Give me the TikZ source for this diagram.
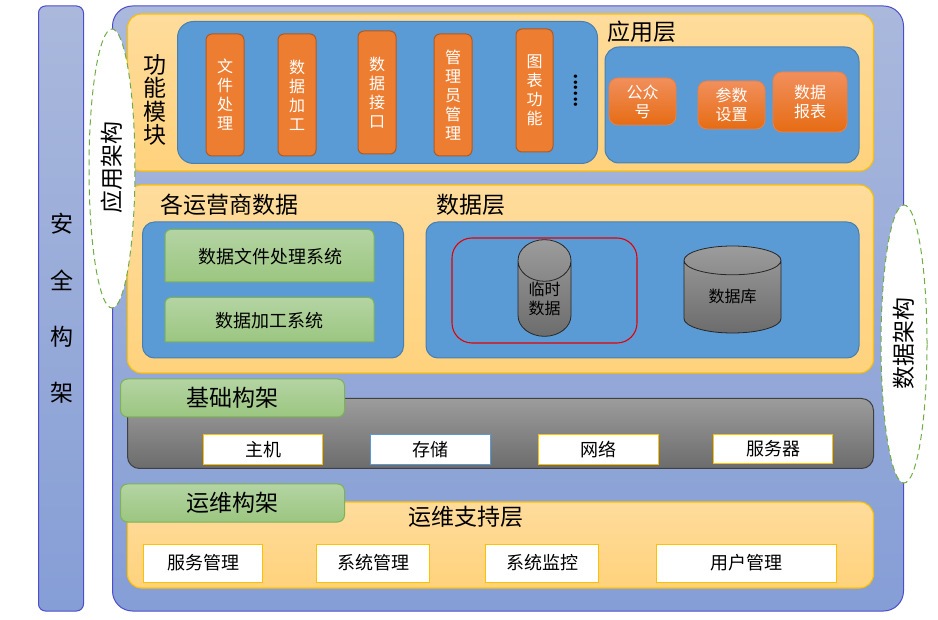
\documentclass[tikz,border=0pt]{standalone}
\usepackage{fontspec}
\setmainfont{Noto Sans CJK SC}
\usetikzlibrary{shapes.geometric}

\newcommand{\titlefont}{\fontsize{23}{23.5}\selectfont}
\newcommand{\labelfont}{\fontsize{16}{19}\selectfont}
\newcommand{\itemfont}{\fontsize{18}{20}\selectfont}

\begin{document}
\begin{tikzpicture}[
    x=1pt, y=-1pt,
    frame/.style={draw=blue!55!gray!90, line width=1pt, top color=backtop, bottom color=backbot, inner sep=0pt},
    layer/.style={draw=layerline, line width=1.1pt, top color=layertop, bottom color=layerbot, rounded corners=14pt, inner sep=0pt},
    module/.style={draw=moduleline, line width=1pt, fill=modulefill, inner sep=0pt},
    func/.style={draw=funcline, line width=1pt, fill=funcfill, rounded corners=6pt, inner sep=0pt, align=center, text=white, font=\labelfont},
    btn/.style={draw=btnline, line width=.8pt, top color=btntop, bottom color=btnbot, rounded corners=9pt, inner sep=0pt, align=center, text=white, font=\labelfont},
    tab/.style={draw=tabline, line width=1pt, top color=tabtop, bottom color=tabbot, rounded corners=7pt, inner sep=0pt, minimum width=224pt, minimum height=38pt, font=\titlefont},
    subsys/.style={draw=tabline, line width=1pt, top color=tabtop, bottom color=tabbot},
    item/.style={draw=layerline, line width=1pt, fill=white, inner sep=0pt, minimum height=30pt, font=\itemfont},
    store/.style={cylinder, shape border rotate=90, anchor=shape center, draw=black!85, line width=.8pt, top color=graytop, bottom color=graybot, inner sep=0pt, align=center, font=\labelfont},
    arch/.style={ellipse, draw=archline, line width=1pt, dash pattern=on 6pt off 4pt, fill=white, inner sep=0pt, minimum width=46pt, minimum height=279pt},
    title/.style={inner sep=0pt, font=\titlefont, align=center}
]
\definecolor{backtop}{HTML}{AAB8DC}
\definecolor{backbot}{HTML}{859ED6}
\definecolor{layerline}{HTML}{FFC000}
\definecolor{layertop}{HTML}{FFDC9C}
\definecolor{layerbot}{HTML}{FFD27C}
\definecolor{moduleline}{HTML}{4A7EAE}
\definecolor{modulefill}{HTML}{5B9BD5}
\definecolor{funcline}{HTML}{AE5A21}
\definecolor{funcfill}{HTML}{ED7D31}
\definecolor{btnline}{HTML}{EE8040}
\definecolor{btntop}{HTML}{F18F5C}
\definecolor{btnbot}{HTML}{E66C14}
\definecolor{tabline}{HTML}{7DB257}
\definecolor{tabtop}{HTML}{B4D4A3}
\definecolor{tabbot}{HTML}{9BC680}
\definecolor{graytop}{HTML}{9C9C9C}
\definecolor{graybot}{HTML}{6C6C6C}
\definecolor{archline}{HTML}{70AD47}

\useasboundingbox (0,0) rectangle (938,620);

% background bars
\node[frame, rounded corners=7pt, minimum width=45pt, minimum height=605pt] (safety) at (61,308.5) {};
\node[frame, rounded corners=20pt, minimum width=791pt, minimum height=605pt] (outer) at (508,308.5) {};
\node[inner sep=0pt, align=center, font=\fontsize{23}{56.4}\selectfont] (safetytxt) at (62,308.5) {安\\全\\构\\架};

% top layer
\node[layer, minimum width=746pt, minimum height=157pt] (funclayer) at (500.5,92.5) {};
\node[title] (functxt) at (155,100) {功\\能\\模\\块};
\node[module, rounded corners=16pt, minimum width=420pt, minimum height=142pt] (funcbox) at (387.5,92.5) {};
\node[func, minimum width=38pt, minimum height=122pt] (f1) at (225,95) {文\\件\\处\\理};
\node[func, minimum width=38pt, minimum height=122pt] (f2) at (297,95) {数\\据\\加\\工};
\node[func, minimum width=38pt, minimum height=123pt] (f3) at (377,92.5) {数\\据\\接\\口};
\node[func, minimum width=38pt, minimum height=122pt] (f4) at (453,95) {管\\理\\员\\管\\理};
\node[func, minimum width=37pt, minimum height=123pt] (f5) at (534.5,90.5) {图\\表\\功\\能};
\node[rotate=90, inner sep=0pt, font=\fontsize{16}{16}\selectfont\bfseries] (fmore) at (576,91) {......};
\node[title] (apptxt) at (642,32) {应用层};
\node[module, rounded corners=14pt, minimum width=254pt, minimum height=116pt] (appbox) at (732,105) {};
\node[btn, minimum width=67pt, minimum height=47pt] (b1) at (642.5,101.5) {公众\\号};
\node[btn, minimum width=67pt, minimum height=48pt] (b2) at (731.5,105) {参数\\设置};
\node[btn, minimum width=74pt, minimum height=60pt] (b3) at (810,102) {数据\\报表};

% data layer
\node[layer, minimum width=746pt, minimum height=188pt] (datalayer) at (500.5,279) {};
\node[title] (carriertxt) at (229,205) {各运营商数据};
\node[title] (datatxt) at (471,205) {数据层};
\node[module, rounded corners=12pt, minimum width=261pt, minimum height=136pt] (carrierbox) at (273,290) {};
\node[module, rounded corners=12pt, minimum width=433pt, minimum height=136pt] (databox) at (642.5,290) {};
\shade[subsys] (165,282) [rounded corners=6pt] -- (165,229.5) -- (374,229.5) [sharp corners] -- (374,282) -- cycle;
\shade[subsys] (165,342) [rounded corners=6pt] -- (165,297.5) -- (374,297.5) [sharp corners] -- (374,342) -- cycle;
\node[inner sep=0pt, font=\itemfont] (s1) at (270,257) {数据文件处理系统};
\node[inner sep=0pt, font=\itemfont] (s2) at (269.5,321) {数据加工系统};
\node[draw=red!90!black, line width=1.1pt, rounded corners=20pt, inner sep=0pt, minimum width=185pt, minimum height=105pt] (tempbox) at (544.5,290.5) {};
\node[store, minimum width=53pt, minimum height=92pt, aspect=1.3] (tempdb) at (544.5,288) {临时\\数据};
\node[store, minimum width=97pt, minimum height=87pt, aspect=.6] (maindb) at (732.5,289.5) {数据库};

% infrastructure
\node[draw=black!75, line width=1pt, top color=graytop, bottom color=graybot, rounded corners=12pt, inner sep=0pt, minimum width=746pt, minimum height=70pt] (infra) at (500.5,433.5) {};
\node[tab] (infratab) at (232.5,398) {基础构架};
\node[item, minimum width=119pt] (i1) at (263,449.5) {主机};
\node[item, draw=modulefill, minimum width=120pt] (i2) at (430.5,449.5) {存储};
\node[item, minimum width=120pt] (i3) at (598.5,449.5) {网络};
\node[item, minimum width=119pt, minimum height=29pt] (i4) at (773,449) {服务器};

% operations
\node[layer, minimum width=746pt, minimum height=86pt] (opslayer) at (500.5,545) {};
\node[tab] (opstab) at (232.5,503) {运维构架};
\node[title] (opstxt) at (466,517) {运维支持层};
\node[item, minimum width=119pt, minimum height=38pt] (o1) at (203,563) {服务管理};
\node[item, minimum width=113pt, minimum height=38pt] (o2) at (373,563) {系统管理};
\node[item, minimum width=113pt, minimum height=38pt] (o3) at (542,563) {系统监控};
\node[item, minimum width=180pt, minimum height=38pt] (o4) at (746.5,563) {用户管理};

% side ellipses
\node[arch] (apparch) at (112,168.5) {};
\node[title, rotate=90] (apparchtxt) at (112,168) {应用架构};
\node[arch, minimum height=278pt] (dataarch) at (904,344) {};
\node[title, rotate=90] (dataarchtxt) at (904,344) {数据架构};
\end{tikzpicture}
\end{document}
